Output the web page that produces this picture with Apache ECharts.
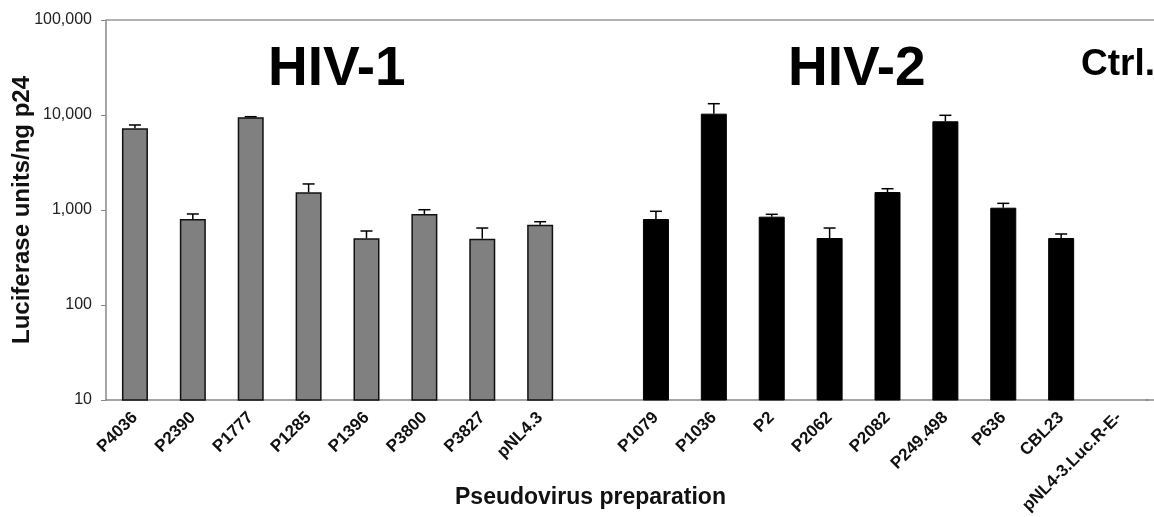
<!DOCTYPE html>
<html>
<head>
<meta charset="utf-8">
<script src="https://cdn.jsdelivr.net/npm/echarts@6/dist/echarts.min.js"></script>
<style>
  html, body { margin: 0; padding: 0; background: #fff; }
  #chart { width: 1154px; height: 517px; }
</style>
</head>
<body>
<div id="chart"></div>
<script>
// categories, in the order drawn (one empty slot between the two groups)
const hiv1Names = ['P4036', 'P2390', 'P1777', 'P1285', 'P1396', 'P3800', 'P3827', 'pNL4.3']
const hiv2Names = ['P1079', 'P1036', 'P2', 'P2062', 'P2082', 'P249.498', 'P636', 'CBL23']
const ctrlNames = ['pNL4-3.Luc.R-E-']

// luciferase units / ng p24
const hiv1Values = [7240, 804, 9460, 1535, 504, 908, 499, 700]
const hiv1Upper = [7850, 908, 9600, 1880, 601, 1007, 646, 753]
const hiv2Values = [804, 10330, 851, 507, 1546, 8590, 1057, 507]
const hiv2Upper = [969, 13150, 901, 646, 1675, 9930, 1175, 559]
const ctrlValues = [null]

const yTicks = [10, 100, 1000, 10000, 100000]

const categories = [...hiv1Names, '', ...hiv2Names, ...ctrlNames]

let barData = []
let errData = []
hiv1Names.forEach((n, i) => {
  barData.push({ value: hiv1Values[i], itemStyle: { color: '#808080', borderColor: '#111', borderWidth: 1.5 } })
  errData.push([barData.length - 1, hiv1Values[i], hiv1Upper[i]])
})
barData.push('-')
hiv2Names.forEach((n, i) => {
  barData.push({ value: hiv2Values[i], itemStyle: { color: '#000', borderColor: '#000', borderWidth: 1 } })
  errData.push([barData.length - 1, hiv2Values[i], hiv2Upper[i]])
})
ctrlValues.forEach(v => barData.push(v === null ? '-' : v))

let myChart = echarts.init(document.getElementById('chart'))

let option = {
  animation: false,
  backgroundColor: '#fff',
  textStyle: { fontFamily: 'Liberation Sans, Arial, sans-serif' },
  grid: { left: 106, right: 6, top: 20, bottom: 117, containLabel: false, outerBoundsMode: 'none' },
  xAxis: {
    type: 'category',
    data: categories,
    axisLine: { lineStyle: { color: '#888', width: 1.5 } },
    axisTick: { show: false },
    axisLabel: {
      interval: 0,
      rotate: 45,
      margin: 15,
      fontSize: 17,
      fontWeight: 'bold',
      color: '#111'
    }
  },
  yAxis: {
    type: 'log',
    logBase: 10,
    min: yTicks[0],
    max: yTicks[yTicks.length - 1],
    name: 'Luciferase units/ng p24',
    nameLocation: 'middle',
    nameGap: 72,
    nameMoveOverlap: false,
    nameTextStyle: { fontSize: 24, fontWeight: 'bold', color: '#111' },
    axisLine: { show: true, lineStyle: { color: '#888', width: 1.5 } },
    axisTick: { show: true, length: 5, lineStyle: { color: '#888' } },
    splitLine: { show: false },
    axisLabel: {
      margin: 14,
      fontSize: 16,
      color: '#222',
      formatter: v => Math.round(v).toLocaleString('en-US')
    }
  },
  graphic: [
    { type: 'line', shape: { x1: 106, y1: 20, x2: 1154, y2: 20 }, style: { stroke: '#999', lineWidth: 1.5 } },
    { type: 'line', shape: { x1: 1146, y1: 400, x2: 1154, y2: 400 }, style: { stroke: '#888', lineWidth: 1.5 } },
    { type: 'text', left: 268, top: 42, style: { text: 'HIV-1', font: 'bold 55px Liberation Sans, Arial, sans-serif', fill: '#000' } },
    { type: 'text', left: 788, top: 42, style: { text: 'HIV-2', font: 'bold 55px Liberation Sans, Arial, sans-serif', fill: '#000' } },
    { type: 'text', left: 1081, top: 46, style: { text: 'Ctrl.', font: 'bold 37px Liberation Sans, Arial, sans-serif', fill: '#000' } },
    { type: 'text', left: 455, top: 486, style: { text: 'Pseudovirus preparation', font: 'bold 23px Liberation Sans, Arial, sans-serif', fill: '#111' } }
  ],
  series: [
    {
      type: 'bar',
      data: barData,
      barWidth: 26
    },
    {
      type: 'custom',
      data: errData,
      z: 3,
      renderItem (params, api) {
        let base = api.coord([api.value(0), api.value(1)])
        let top = api.coord([api.value(0), api.value(2)])
        let half = 6
        return {
          type: 'group',
          children: [
            { type: 'line', shape: { x1: base[0], y1: base[1], x2: top[0], y2: top[1] }, style: { stroke: '#000', lineWidth: 1.5 } },
            { type: 'line', shape: { x1: top[0] - half, y1: top[1], x2: top[0] + half, y2: top[1] }, style: { stroke: '#000', lineWidth: 1.5 } }
          ]
        }
      }
    }
  ]
}
myChart.setOption(option)
</script>
</body>
</html>
